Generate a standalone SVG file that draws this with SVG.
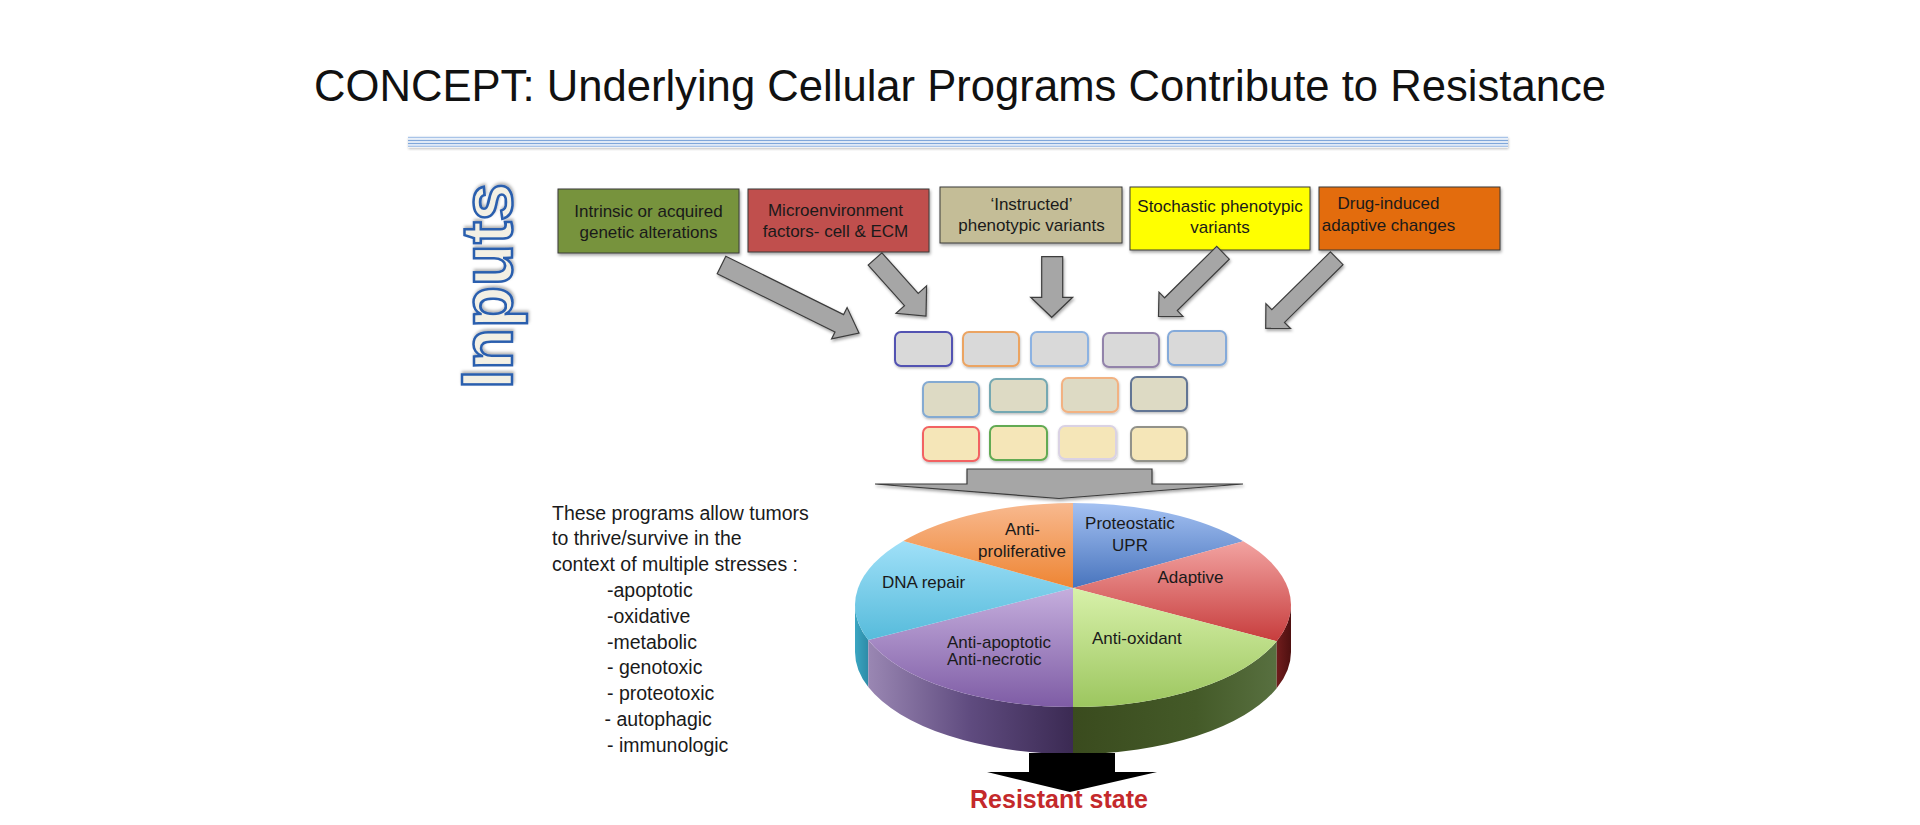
<svg xmlns="http://www.w3.org/2000/svg" width="1920" height="825" viewBox="0 0 1920 825">
<style>
  .t { font-family: "Liberation Sans", Arial, sans-serif; fill: #111111; }
  .box { stroke: #3a3a3a; stroke-width: 1; filter: url(#sh); }
  .btxt { font-family: "Liberation Sans", Arial, sans-serif; font-size: 17px; fill: #1a1a1a; text-anchor: middle; }
  .sb { stroke-width: 2; filter: url(#sh2); }
  .g1 { fill: #d9d9d9; }
  .g2 { fill: #dddac4; }
  .g3 { fill: #f5e6b8; }
  .arr { fill: #a6a6a6; stroke: #3c3c3c; stroke-width: 1.2; stroke-linejoin: miter; filter: url(#sh); }
  .pl { font-family: "Liberation Sans", Arial, sans-serif; font-size: 17px; fill: #1a1a1a; }
  .st { font-family: "Liberation Sans", Arial, sans-serif; font-size: 19.5px; fill: #1a1a1a; }
</style>
<defs>
  <filter id="sh" x="-10%" y="-10%" width="130%" height="140%">
    <feDropShadow dx="1" dy="2" stdDeviation="1.5" flood-color="#000" flood-opacity="0.35"/>
  </filter>
  <filter id="sh2" x="-10%" y="-10%" width="130%" height="140%">
    <feDropShadow dx="0.5" dy="1.5" stdDeviation="1.2" flood-color="#000" flood-opacity="0.25"/>
  </filter>
  <filter id="shIn" x="-20%" y="-20%" width="140%" height="140%">
    <feDropShadow dx="2" dy="1" stdDeviation="1.5" flood-color="#000" flood-opacity="0.3"/>
  </filter>
  <linearGradient id="gOr" x1="0" y1="0" x2="0" y2="1"><stop offset="0" stop-color="#f8b98f"/><stop offset="1" stop-color="#ee8533"/></linearGradient>
  <linearGradient id="gBl" x1="0" y1="0" x2="0" y2="1"><stop offset="0" stop-color="#a4c1f2"/><stop offset="1" stop-color="#4874bd"/></linearGradient>
  <linearGradient id="gRd" x1="0" y1="0" x2="0" y2="1"><stop offset="0" stop-color="#f2a3a1"/><stop offset="1" stop-color="#c73d3d"/></linearGradient>
  <linearGradient id="gGr" x1="0" y1="0" x2="0" y2="1"><stop offset="0" stop-color="#d8f1aa"/><stop offset="1" stop-color="#9cc65f"/></linearGradient>
  <linearGradient id="gPu" x1="0" y1="0" x2="0" y2="1"><stop offset="0" stop-color="#c5aedd"/><stop offset="1" stop-color="#7e5ca5"/></linearGradient>
  <linearGradient id="gCy" x1="0" y1="0" x2="0" y2="1"><stop offset="0" stop-color="#a0e0f8"/><stop offset="1" stop-color="#56bbdb"/></linearGradient>
  <linearGradient id="sPu" gradientUnits="userSpaceOnUse" x1="868" y1="0" x2="1073" y2="0"><stop offset="0" stop-color="#9a87b3"/><stop offset="0.5" stop-color="#5f4b7f"/><stop offset="1" stop-color="#3b2a53"/></linearGradient>
  <linearGradient id="sGr" gradientUnits="userSpaceOnUse" x1="1073" y1="0" x2="1277" y2="0"><stop offset="0" stop-color="#3a4b1e"/><stop offset="0.6" stop-color="#445a28"/><stop offset="1" stop-color="#587040"/></linearGradient>
  <linearGradient id="sRd" gradientUnits="userSpaceOnUse" x1="1277" y1="0" x2="1291" y2="0"><stop offset="0" stop-color="#701c1c"/><stop offset="1" stop-color="#4e1010"/></linearGradient>
  <linearGradient id="sCy" gradientUnits="userSpaceOnUse" x1="855" y1="0" x2="869" y2="0"><stop offset="0" stop-color="#3aa6c2"/><stop offset="1" stop-color="#2d8aa6"/></linearGradient>
</defs>

<rect width="1920" height="825" fill="#ffffff"/>

<g id="title">
  <text class="t" x="314" y="101" font-size="44" textLength="1292" lengthAdjust="spacingAndGlyphs">CONCEPT:  Underlying Cellular Programs Contribute to Resistance</text>
  <g id="title-rule">
    <rect x="408" y="136.5" width="1100" height="11" fill="#ffffff" filter="url(#sh2)"/>
    <line x1="408" y1="137.5" x2="1508" y2="137.5" stroke="#a9c4e8" stroke-width="1.4"/>
    <line x1="408" y1="140.5" x2="1508" y2="140.5" stroke="#80a7da" stroke-width="1.6"/>
    <line x1="408" y1="143.5" x2="1508" y2="143.5" stroke="#80a7da" stroke-width="1.6"/>
    <line x1="408" y1="146.3" x2="1508" y2="146.3" stroke="#a9c4e8" stroke-width="1.4"/>
  </g>
</g>

<g id="inputs-label">
  <text transform="translate(512,389) rotate(-90)" x="0" y="0" font-family="'Liberation Sans', Arial, sans-serif" font-weight="bold" font-size="72" textLength="206" lengthAdjust="spacingAndGlyphs" fill="#f3f0e4" stroke="#2b5fae" stroke-width="2.6" filter="url(#shIn)">Inputs</text>
</g>

<g id="box-genetic">
  <rect class="box" x="558" y="189" width="181" height="64" fill="#77933c"/>
  <text class="btxt" x="648.5" y="217">Intrinsic or acquired</text>
  <text class="btxt" x="648.5" y="238">genetic alterations</text>
</g>
<g id="box-micro">
  <rect class="box" x="748" y="189" width="181" height="63" fill="#c0504d"/>
  <text class="btxt" x="835.5" y="216">Microenvironment</text>
  <text class="btxt" x="835.5" y="237">factors- cell &amp; ECM</text>
</g>
<g id="box-instructed">
  <rect class="box" x="940" y="187" width="182" height="56" fill="#c4bd97"/>
  <text class="btxt" x="1031.5" y="210">‘Instructed’</text>
  <text class="btxt" x="1031.5" y="231">phenotypic variants</text>
</g>
<g id="box-stochastic">
  <rect class="box" x="1130" y="187" width="180" height="63" fill="#ffff00"/>
  <text class="btxt" x="1220" y="212">Stochastic phenotypic</text>
  <text class="btxt" x="1220" y="233">variants</text>
</g>
<g id="box-drug">
  <rect class="box" x="1319" y="187" width="181" height="63" fill="#e36c09"/>
  <text class="btxt" x="1388.5" y="209">Drug-induced</text>
  <text class="btxt" x="1388.5" y="231">adaptive changes</text>
</g>

<g id="programs">
  <rect id="p1" class="sb g1" x="895" y="332" width="57" height="34" rx="6" stroke="#5252b2"/>
  <rect id="p2" class="sb g1" x="963" y="332" width="56" height="34" rx="6" stroke="#eba462"/>
  <rect id="p3" class="sb g1" x="1031" y="332" width="57" height="34" rx="6" stroke="#8cb2e2"/>
  <rect id="p4" class="sb g1" x="1103" y="333" width="56" height="34" rx="6" stroke="#9283aa"/>
  <rect id="p5" class="sb g1" x="1168" y="331" width="58" height="34" rx="6" stroke="#84aada"/>
  <rect id="p6" class="sb g2" x="923" y="382" width="56" height="35" rx="6" stroke="#84aad2"/>
  <rect id="p7" class="sb g2" x="990" y="379" width="57" height="33" rx="6" stroke="#74a8b2"/>
  <rect id="p8" class="sb g2" x="1062" y="378" width="56" height="34" rx="6" stroke="#f2b282"/>
  <rect id="p9" class="sb g2" x="1131" y="377" width="56" height="34" rx="6" stroke="#627494"/>
  <rect id="p10" class="sb g3" x="923" y="427" width="56" height="34" rx="6" stroke="#f26262"/>
  <rect id="p11" class="sb g3" x="990" y="426" width="57" height="34" rx="6" stroke="#62aa52"/>
  <rect id="p12" class="sb g3" x="1059" y="426" width="57" height="33" rx="6" stroke="#dad2e4"/>
  <rect id="p13" class="sb g3" x="1131" y="427" width="56" height="34" rx="6" stroke="#92928a"/>
</g>

<g id="pie">
  <path d="M855,605 A218,102 0 0,0 868.3,640.1 L868.3,687.1 A218,102 0 0,1 855,652 Z" fill="url(#sCy)"/>
  <path d="M868.3,640.1 A218,102 0 0,0 1073,707 L1073,754 A218,102 0 0,1 868.3,687.1 Z" fill="url(#sPu)"/>
  <path d="M1073,707 A218,102 0 0,0 1276.7,641.3 L1276.7,688.3 A218,102 0 0,1 1073,754 Z" fill="url(#sGr)"/>
  <path d="M1276.7,641.3 A218,102 0 0,0 1291,605 L1291,652 A218,102 0 0,1 1276.7,688.3 Z" fill="url(#sRd)"/>
  <path id="s-proteo" d="M1073,588 L1073,503 A218,102 0 0,1 1243.3,541.3 Z" fill="url(#gBl)"/>
  <path id="s-adapt" d="M1073,588 L1243.3,541.3 A218,102 0 0,1 1276.7,641.3 Z" fill="url(#gRd)"/>
  <path id="s-oxid" d="M1073,588 L1276.7,641.3 A218,102 0 0,1 1073,707 Z" fill="url(#gGr)"/>
  <path id="s-apop" d="M1073,588 L1073,707 A218,102 0 0,1 868.3,640.1 Z" fill="url(#gPu)"/>
  <path id="s-dna" d="M1073,588 L868.3,640.1 A218,102 0 0,1 903.3,541 Z" fill="url(#gCy)"/>
  <path id="s-prolif" d="M1073,588 L903.3,541 A218,102 0 0,1 1073,503 Z" fill="url(#gOr)"/>
  <text class="pl" x="1022.5" y="535" text-anchor="middle">Anti-</text>
  <text class="pl" x="1022" y="557" text-anchor="middle">proliferative</text>
  <text class="pl" x="1130" y="529" text-anchor="middle">Proteostatic</text>
  <text class="pl" x="1130" y="551" text-anchor="middle">UPR</text>
  <text class="pl" x="1190.5" y="583" text-anchor="middle">Adaptive</text>
  <text class="pl" x="882" y="588">DNA repair</text>
  <text class="pl" x="1092" y="644">Anti-oxidant</text>
  <text class="pl" x="947" y="648">Anti-apoptotic</text>
  <text class="pl" x="947" y="665" font-size="15.5">Anti-necrotic</text>
</g>

<g id="stresses">
  <text class="st" x="552" y="519.5">These programs allow tumors</text>
  <text class="st" x="552" y="545.3">to thrive/survive in the</text>
  <text class="st" x="552" y="571.1">context of multiple stresses :</text>
  <text class="st" x="607" y="596.9">-apoptotic</text>
  <text class="st" x="607" y="622.7">-oxidative</text>
  <text class="st" x="607" y="648.5">-metabolic</text>
  <text class="st" x="607" y="674.3">- genotoxic</text>
  <text class="st" x="607" y="700.1">- proteotoxic</text>
  <text class="st" x="604.5" y="725.9">- autophagic</text>
  <text class="st" x="607" y="751.7">- immunologic</text>
</g>

<g id="connectors">
  <polygon class="arr" points="717.2,273.7 835,332 831.6,338.9 859,333 847.1,307.6 843.6,314.6 725.8,256.3"/>
  <polygon class="arr" points="868.2,265.1 904.5,305.7 896,313.3 926,316 926.6,285.9 918.2,293.5 881.9,252.9"/>
  <polygon class="arr" points="1041.7,256.7 1062.7,256.7 1062.7,297.3 1072.7,297.3 1051.7,317.3 1030.7,297.3 1041.7,297.3"/>
  <polygon class="arr" points="1216.7,246.4 1164.6,297.8 1159,292.1 1158.5,316.5 1182.9,316.3 1177.3,310.6 1229.3,259.2"/>
  <polygon class="arr" points="1330.4,251.9 1271.8,309.6 1265.9,303.6 1265.7,328.3 1290.5,328.5 1284.5,322.4 1343,264.7"/>
  <polygon class="arr" points="967,469 1152,469 1152,484 1243,484 1059,498.5 875,484 967,484"/>
  <polygon points="1029,753 1115,753 1115,772 1157,772 1070,792 987,772 1029,772" fill="#000000"/>
</g>

<g id="resistant-state">
  <text x="1059" y="808" text-anchor="middle" font-family="'Liberation Sans', Arial, sans-serif" font-weight="bold" font-size="25" fill="#c4292b">Resistant state</text>
</g>
</svg>
